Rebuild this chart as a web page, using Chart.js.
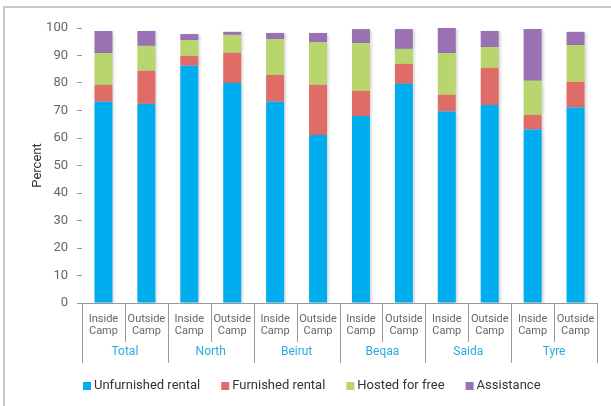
<!DOCTYPE html>
<html>
<head>
<meta charset="utf-8">
<script src="https://cdn.jsdelivr.net/npm/chart.js@4/dist/chart.umd.min.js"></script>
<style>
  body { margin: 0; background: #fff; }
  canvas { display: block; }
</style>
</head>
<body>
<canvas id="housingChart" width="611" height="406"></canvas>
<script>
// Regions and the two bars in each
const regions = ['Total', 'North', 'Beirut', 'Beqaa', 'Saida', 'Tyre'];
const campTypes = [['Inside', 'Camp'], ['Outside', 'Camp']];

// Percent of households, stacked
const unfurnished = [73.2, 72.4, 86.3, 80.0, 73.2, 61.1, 68.0, 79.7, 69.6, 72.0, 63.1, 71.1];
const furnished   = [6.1, 12.0, 3.5, 11.0, 9.7, 18.2, 9.1, 7.2, 6.1, 13.5, 5.3, 9.3];
const hosted      = [11.6, 9.1, 5.8, 6.5, 13.1, 15.6, 17.4, 5.5, 15.2, 7.6, 12.4, 13.4];
const assistance  = [8.0, 5.4, 2.2, 1.1, 2.2, 3.3, 5.1, 7.2, 9.1, 5.8, 18.8, 4.8];

const yTicks = [0, 10, 20, 30, 40, 50, 60, 70, 80, 90, 100];

const FONT = 'Roboto, "DejaVu Sans", sans-serif';

// one label per bar
const labels = [];
regions.forEach(function() {
    campTypes.forEach(function(c) { labels.push(c); });
});

// Bar shadows
const shadowPlugin = {
    id: 'barShadow',
    beforeDatasetsDraw(chart) {
        const ctx = chart.ctx;
        ctx.save();
        ctx.shadowColor = 'rgba(0,0,0,0.18)';
        ctx.shadowBlur = 3;
        ctx.shadowOffsetX = 2;
        ctx.shadowOffsetY = 1;
    },
    afterDatasetsDraw(chart) {
        chart.ctx.restore();
    }
};

// Frame, region separators, region names and legend
const decorPlugin = {
    id: 'decor',
    beforeDraw(chart) {
        const ctx = chart.ctx;
        ctx.save();
        ctx.strokeStyle = '#c8c8c8';
        ctx.lineWidth = 2;
        ctx.beginPath();
        ctx.moveTo(4, 406);
        ctx.lineTo(4, 7);
        ctx.lineTo(611, 7);
        ctx.stroke();
        ctx.restore();
    },
    afterDraw(chart) {
        const ctx = chart.ctx;
        const x = chart.scales.x;
        const base = chart.chartArea.bottom;
        const half = (x.getPixelForValue(1) - x.getPixelForValue(0)) / 2;
        const start = x.getPixelForValue(0) - half;

        ctx.save();
        ctx.strokeStyle = '#999';
        ctx.lineWidth = 1;
        for (let i = 0; i <= labels.length; i++) {
            const px = Math.round(start + i * 2 * half) + 0.5;
            ctx.beginPath();
            ctx.moveTo(px, base);
            ctx.lineTo(px, i % 2 === 0 ? base + 60 : base + 39);
            ctx.stroke();
        }

        ctx.fillStyle = '#29abe2';
        ctx.font = '12px ' + FONT;
        ctx.textAlign = 'center';
        ctx.textBaseline = 'middle';
        regions.forEach(function(r, i) {
            ctx.fillText(r, start + (i * 2 + 1) * 2 * half, base + 49);
        });

        // legend
        ctx.font = '13px ' + FONT;
        ctx.textAlign = 'left';
        let lx = 83;
        const ly = 386;
        chart.data.datasets.forEach(function(ds) {
            ctx.fillStyle = ds.backgroundColor;
            ctx.fillRect(lx, ly - 4, 8, 8);
            ctx.fillStyle = '#333';
            ctx.fillText(ds.label, lx + 11, ly);
            lx += 11 + ctx.measureText(ds.label).width + 21;
        });
        ctx.restore();
    }
};

new Chart(document.getElementById('housingChart'), {
    type: 'bar',
    data: {
        labels: labels,
        datasets: [
            { label: 'Unfurnished rental', data: unfurnished, backgroundColor: '#00aeef' },
            { label: 'Furnished rental', data: furnished, backgroundColor: '#e06c68' },
            { label: 'Hosted for free', data: hosted, backgroundColor: '#b8d56e' },
            { label: 'Assistance', data: assistance, backgroundColor: '#9a72b4' }
        ]
    },
    options: {
        responsive: false,
        animation: false,
        layout: { padding: { top: 28, right: 14, bottom: 41, left: 0 } },
        datasets: { bar: { categoryPercentage: 1, barPercentage: 0.42 } },
        plugins: {
            legend: { display: false },
            tooltip: { enabled: false }
        },
        scales: {
            x: {
                stacked: true,
                grid: { display: false },
                border: { display: true, color: '#999' },
                ticks: {
                    color: '#666',
                    font: { family: FONT, size: 11, lineHeight: 1.1 },
                    padding: 2,
                    maxRotation: 0,
                    autoSkip: false
                },
                afterFit: function(scale) { scale.height = 62; }
            },
            y: {
                stacked: true,
                min: 0,
                max: 100,
                afterBuildTicks: function(scale) {
                    scale.ticks = yTicks.map(function(v) { return { value: v }; });
                },
                grid: { drawOnChartArea: false, drawTicks: true, tickLength: 5, color: '#999' },
                border: { display: false },
                ticks: {
                    color: '#666',
                    font: { family: FONT, size: 13 },
                    padding: 9
                },
                title: {
                    display: true,
                    text: 'Percent',
                    color: '#333',
                    font: { family: FONT, size: 13 },
                    padding: { top: 30, bottom: 0 }
                },
                afterFit: function(scale) { scale.width = 82; }
            }
        }
    },
    plugins: [shadowPlugin, decorPlugin]
});
</script>
</body>
</html>
